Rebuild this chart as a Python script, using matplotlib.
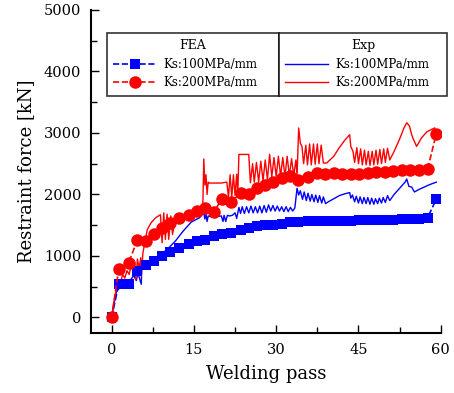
import matplotlib
matplotlib.use('Agg')
from matplotlib import pyplot as plt
from matplotlib.ticker import MultipleLocator

plt.rcParams['font.family'] = ['DejaVu Serif']

# FEA results (welding pass, restraint force kN)
fea_pass = [0, 1.3, 3.1, 4.7, 6.2, 7.7, 9.2, 10.7, 12.2, 14.1, 15.6, 17.1, 18.6, 20.1,
            21.8, 23.5, 25.0, 26.5, 28.0, 29.5, 31.0, 32.5, 34.0, 35.8, 37.4, 38.95,
            40.5, 42.0, 43.6, 45.1, 46.7, 48.2, 49.8, 51.3, 52.9, 54.4, 56.0, 57.6, 59.2]
fea_ks100 = [0, 547, 550, 750, 850, 915, 995, 1060, 1130, 1195, 1240, 1265, 1320, 1350,
             1375, 1420, 1455, 1480, 1495, 1510, 1525, 1547, 1547, 1560, 1565, 1568,
             1570, 1572, 1575, 1578, 1580, 1583, 1586, 1590, 1595, 1600, 1605, 1620, 1925]
fea_ks200 = [0, 790, 890, 1260, 1240, 1360, 1460, 1540, 1620, 1670, 1730, 1780, 1710, 1930,
             1870, 2030, 2000, 2110, 2160, 2210, 2270, 2300, 2230, 2290, 2350, 2330,
             2350, 2340, 2330, 2340, 2350, 2360, 2370, 2380, 2390, 2400, 2400, 2410, 2990]

# Experiment, Ks = 100 MPa/mm
exp100_pass = [0, 0.5, 0.9, 1.5, 2.0, 2.5, 3.0, 3.5, 4.0, 4.5, 4.8, 5.4, 5.5, 6.5, 7.5, 8.5,
               9.5, 10.5, 11.6, 13.0, 14.5, 16.0, 16.8, 17.0, 17.2, 17.4, 17.6, 18.0, 19.0,
               20.0, 20.3, 20.5, 20.8, 21.1, 21.5, 22.0, 22.5, 22.8, 23.2, 23.5, 23.8,
               24.2, 24.6, 25.0, 25.4, 25.8, 26.2, 26.6, 27.0, 27.4, 27.8, 28.2, 28.6,
               29.0, 29.4, 29.8, 30.2, 30.6, 31.0, 31.4, 31.8, 32.2, 32.6, 33.0, 33.4,
               33.8, 34.1, 34.4, 34.8, 35.1, 35.5, 35.8, 36.2, 36.5, 36.9, 37.2, 37.6,
               37.9, 38.3, 38.6, 39.0, 39.5, 40.5, 41.5, 42.5, 43.4, 43.6, 43.9, 44.3,
               44.6, 45.0, 45.3, 45.7, 46.0, 46.4, 46.7, 47.1, 47.4, 47.8, 48.1, 48.5,
               48.8, 49.2, 49.5, 49.9, 50.3, 50.7, 51.5, 52.5, 53.5, 53.8, 54.2, 54.7,
               55.2, 56.0, 57.0, 58.0, 59.2]
exp100_val = [0, 250, 430, 480, 520, 500, 580, 620, 680, 600, 720, 540, 830, 880, 930, 990,
              1060, 1140, 1240, 1400, 1550, 1620, 1700, 1600, 1680, 1560, 1650, 1640, 1640,
              1650, 1560, 1660, 1560, 1660, 1650, 1660, 1700, 1610, 1790, 1690, 1800,
              1690, 1800, 1700, 1810, 1700, 1800, 1700, 1810, 1700, 1820, 1710, 1830,
              1730, 1820, 1730, 1810, 1730, 1800, 1720, 1800, 1720, 1790, 1730, 1780,
              2100, 1990, 2060, 1920, 2040, 1900, 2020, 1890, 2000, 1880, 1990, 1870,
              1980, 1860, 1960, 1850, 1880, 1930, 1980, 2010, 2030, 1940, 1990, 1880,
              1970, 1860, 1960, 1850, 1950, 1850, 1950, 1840, 1940, 1840, 1930, 1850,
              1940, 1860, 1950, 1870, 1980, 1900, 2000, 2100, 2200, 2250, 2130, 2120,
              2040, 2080, 2120, 2160, 2200]

# Experiment, Ks = 200 MPa/mm
exp200_pass = [0, 0.5, 1.0, 1.3, 1.6, 2.0, 2.4, 2.8, 3.2, 3.5, 3.9, 4.2, 4.4, 4.7, 5.0,
               5.3, 5.4, 5.7, 6.5, 7.2, 8.0, 8.9, 9.2, 9.5, 9.8, 10.1, 10.4, 10.8, 11.1,
               11.5, 12.5, 13.5, 14.5, 15.5, 16.6, 16.8, 17.0, 17.2, 17.4, 17.6, 17.8,
               18.3, 19.0, 20.0, 21.0, 21.3, 21.6, 21.9, 22.2, 22.5, 22.8, 23.0, 23.2,
               25.0, 25.3, 25.7, 26.0, 26.4, 26.8, 27.2, 27.6, 28.0, 28.4, 28.8, 29.2,
               29.6, 30.0, 30.4, 30.8, 31.2, 31.6, 32.0, 32.4, 32.8, 33.2, 33.6, 33.8,
               34.1, 34.4, 34.7, 35.0, 35.4, 35.7, 36.1, 36.4, 36.8, 37.1, 37.5, 37.8,
               38.2, 38.6, 39.2, 40.5, 41.5, 42.5, 43.4, 43.6, 44.0, 44.3, 44.7, 45.0,
               45.4, 45.7, 46.1, 46.4, 46.8, 47.1, 47.5, 47.8, 48.2, 48.5, 48.9, 49.2,
               49.6, 49.9, 50.3, 50.7, 51.4, 52.5, 53.3, 53.8, 54.3, 54.7, 55.0, 55.6,
               56.5, 57.5, 58.9]
exp200_val = [0, 300, 520, 615, 560, 700, 640, 760, 700, 830, 760, 900, 615, 950, 800,
              970, 670, 1050, 1430, 1540, 1620, 1670, 1215, 1700, 1270, 1680, 1270, 1650,
              1350, 1550, 1600, 1640, 1660, 1690, 1720, 2575, 2150, 2320, 2000, 2200, 2185,
              2185, 2185, 2185, 2200, 1950, 2320, 1950, 2320, 1980, 2330, 2000, 2650,
              2650, 2190, 2500, 2200, 2520, 2200, 2540, 2220, 2560, 2240, 2650, 2290,
              2600, 2290, 2620, 2300, 2600, 2290, 2620, 2300, 2580, 2310, 2560, 2300,
              3080, 2835, 2780, 2500, 2800, 2480, 2820, 2480, 2820, 2490, 2820, 2500,
              2800, 2510, 2510, 2620, 2760, 2880, 2970, 2780, 2700, 2520, 2760, 2500,
              2740, 2480, 2720, 2480, 2700, 2470, 2700, 2480, 2720, 2490, 2730, 2500,
              2740, 2520, 2750, 2560, 2680, 2900, 3080, 3165, 3110, 2970, 2900, 2780,
              2920, 3020, 3080]

blue = '#0000ff'
red = '#ff0000'

fig = plt.figure(figsize=(4.54, 3.93), dpi=100)
ax = fig.add_axes([0.2, 0.153, 0.772, 0.822])

# Experiment lines
l3, = ax.plot(exp100_pass, exp100_val, color=blue, lw=1.0, label='Ks:100MPa/mm')
l4, = ax.plot(exp200_pass, exp200_val, color=red, lw=1.0, label='Ks:200MPa/mm')

# FEA markers with dashed lines
l1, = ax.plot(fea_pass, fea_ks100, color=blue, ls='--', lw=1.2, marker='s', ms=7.5,
              markeredgewidth=0, label='Ks:100MPa/mm')
l2, = ax.plot(fea_pass, fea_ks200, color=red, ls='--', lw=1.2, marker='o', ms=9,
              markeredgewidth=0, label='Ks:200MPa/mm')

ax.set_xlim(-3.8, 60.1)
ax.set_ylim(-250, 5000)
ax.xaxis.set_major_locator(MultipleLocator(15))
ax.xaxis.set_minor_locator(MultipleLocator(7.5))
ax.yaxis.set_major_locator(MultipleLocator(1000))
ax.yaxis.set_minor_locator(MultipleLocator(500))
ax.tick_params(which='both', direction='in', labelsize=10.5, width=1)
ax.tick_params(which='major', length=6, pad=7)
ax.tick_params(which='minor', length=4)
ax.spines['top'].set_visible(False)
ax.spines['right'].set_visible(False)
ax.spines['left'].set_linewidth(1.5)
ax.spines['bottom'].set_linewidth(1.5)

ax.set_xlabel('Welding pass', fontsize=13, labelpad=6)
ax.set_ylabel('Restraint force [kN]', fontsize=13, labelpad=6)

leg_kw = dict(fontsize=8.5, frameon=True, fancybox=False, edgecolor='black', mode='expand',
              handlelength=3.6, handletextpad=0.6, borderpad=0.55, labelspacing=0.45,
              title_fontsize=9, loc='upper left', borderaxespad=0)
leg1 = fig.legend(handles=[l1, l2], title='FEA',
                  bbox_to_anchor=(107 / 454, 1 - 97 / 393, 172 / 454, 64 / 393), **leg_kw)
leg1.get_frame().set_linewidth(1.2)
leg2 = fig.legend(handles=[l3, l4], title='Exp',
                  bbox_to_anchor=(279 / 454, 1 - 97 / 393, 168 / 454, 64 / 393), **leg_kw)
leg2.get_frame().set_linewidth(1.2)

fig.savefig('out.png', dpi=100)
